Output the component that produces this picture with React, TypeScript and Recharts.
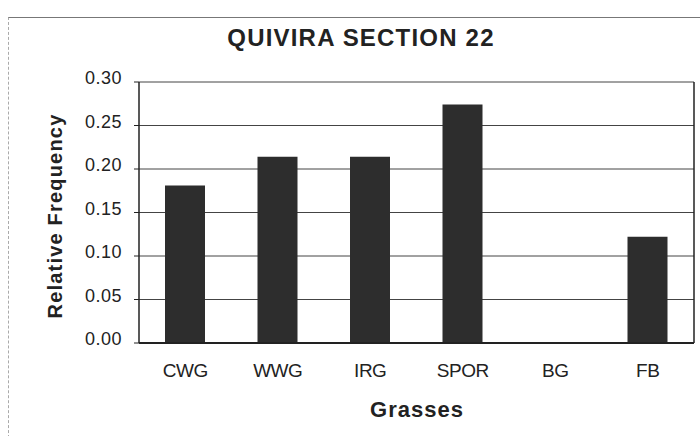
import { BarChart, Bar, XAxis, YAxis, CartesianGrid, Label } from 'recharts'

const grasses = ['CWG', 'WWG', 'IRG', 'SPOR', 'BG', 'FB']
const frequency = [0.181, 0.214, 0.214, 0.274, 0, 0.122]
const yTicks = [0, 0.05, 0.1, 0.15, 0.2, 0.25, 0.3]

const data = grasses.map((name, i) => ({ name, freq: frequency[i] }))

const FONT = '"Liberation Sans", Arial, sans-serif'

function YTick(props: any) {
  const { x, y, payload } = props
  return (
    <text x={x} y={y + 2} textAnchor="end" fontFamily={FONT} fontSize={18} fill="#222" letterSpacing={0.5}>
      {Number(payload.value).toFixed(2)}
    </text>
  )
}

function XTick(props: any) {
  const { x, y, payload } = props
  return (
    <text x={x} y={y + 34} textAnchor="middle" fontFamily={FONT} fontSize={19} fill="#222" letterSpacing={-0.5}>
      {payload.value}
    </text>
  )
}

export default function App() {
  return (
    <div style={{ position: 'absolute', left: 0, top: 0, width: 700, height: 436, background: '#fff', overflow: 'hidden' }}>
      <div
        style={{
          position: 'absolute',
          left: 8,
          top: 17,
          width: 700,
          height: 430,
          borderTop: '1px solid #777',
          borderLeft: '1px dashed #aaa',
        }}
      />
      <div
        style={{
          position: 'absolute',
          left: 0,
          top: 26,
          width: 722,
          textAlign: 'center',
          fontFamily: FONT,
          fontWeight: 'bold',
          fontSize: 24,
          lineHeight: '24px',
          letterSpacing: 1.2,
          color: '#222',
        }}
      >
        QUIVIRA SECTION 22
      </div>
      <div style={{ position: 'absolute', left: 0, top: 0 }}>
        <BarChart width={700} height={436} data={data} margin={{ top: 82, right: 0, bottom: 0, left: 0 }}>
          <CartesianGrid vertical={false} stroke="#444" strokeWidth={1} />
          <XAxis
            dataKey="name"
            height={93}
            tickLine={false}
            tickSize={0}
            tickMargin={0}
            axisLine={{ stroke: '#222', strokeWidth: 2 }}
            tick={<XTick />}
            interval={0}
          >
            <Label
              content={() => (
                <text x={417} y={417} textAnchor="middle" fontFamily={FONT} fontWeight="bold" fontSize={22} letterSpacing={1} fill="#222">
                  Grasses
                </text>
              )}
            />
          </XAxis>
          <YAxis
            width={139}
            domain={[0, 0.3]}
            ticks={yTicks}
            tickSize={5}
            tickMargin={12}
            axisLine={{ stroke: '#222', strokeWidth: 1.5 }}
            tickLine={{ stroke: '#222' }}
            tick={<YTick />}
          >
            <Label
              content={() => (
                <text
                  x={62}
                  y={216}
                  transform="rotate(-90, 62, 216)"
                  textAnchor="middle"
                  fontFamily={FONT}
                  fontWeight="bold"
                  fontSize={20}
                  letterSpacing={1.2}
                  fill="#222"
                >
                  Relative Frequency
                </text>
              )}
            />
          </YAxis>
          <YAxis
            yAxisId="r"
            orientation="right"
            width={6}
            domain={[0, 0.3]}
            tick={false}
            tickLine={false}
            axisLine={{ stroke: '#222', strokeWidth: 1.5 }}
          />
          <Bar dataKey="freq" fill="#2d2d2d" barSize={40} isAnimationActive={false} />
        </BarChart>
      </div>
    </div>
  )
}
